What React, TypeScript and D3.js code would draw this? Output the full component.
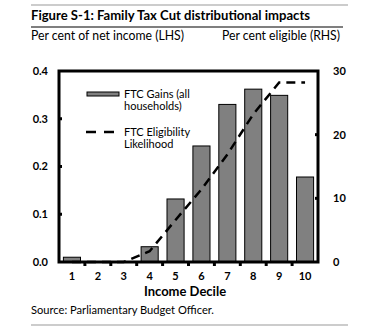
import React from "react";
import * as d3 from "d3";

const categories = ["1", "2", "3", "4", "5", "6", "7", "8", "9", "10"];
const ftcGains = [0.01, 0.001, 0.001, 0.032, 0.132, 0.243, 0.33, 0.362, 0.349, 0.178];
const eligibility = [0, 0, 0, 1.7, 6.6, 11.4, 16.9, 23.2, 28.2, 28.2];
const leftTicks = [0, 0.1, 0.2, 0.3, 0.4];
const rightTicks = [0, 10, 20, 30];

const W = 365;
const H = 326;
const L = 59;
const R = 318;
const T = 71;
const B = 262;
const FONT = "Lato, 'Open Sans', sans-serif";

export default function App() {
  const x = d3
    .scaleBand<string>()
    .domain(categories)
    .range([L, R])
    .paddingInner(0.34)
    .paddingOuter(0.17);
  const yL = d3.scaleLinear().domain([0, 0.4]).range([B, T]);
  const yR = d3.scaleLinear().domain([0, 30]).range([B, T]);
  const step = x.step();
  const line = d3
    .line<number>()
    .x((_, i) => (x(categories[i]) as number) + x.bandwidth() / 2)
    .y((d) => yR(d));

  return (
    <svg
      width={W}
      height={H}
      style={{ position: "absolute", left: 0, top: 0, display: "block", background: "#fff" }}
      fontFamily={FONT}
    >
      <line x1={31} x2={348} y1={5} y2={5} stroke="#999" strokeWidth={1} />
      <text x={31} y={20} fontSize={13.5} fontWeight="bold" fill="#000" textLength={279} lengthAdjust="spacingAndGlyphs">
        Figure S-1: Family Tax Cut distributional impacts
      </text>
      <line x1={31} x2={343} y1={27} y2={27} stroke="#000" strokeWidth={1.2} />
      <text x={31} y={40} fontSize={12.5} fill="#000" textLength={153} lengthAdjust="spacingAndGlyphs">
        Per cent of net income (LHS)
      </text>
      <text x={222} y={40} fontSize={12.5} fill="#000" textLength={118} lengthAdjust="spacingAndGlyphs">
        Per cent eligible (RHS)
      </text>

      {/* bars */}
      {ftcGains.map((v, i) => (
        <rect
          key={i}
          x={x(categories[i])}
          y={yL(v)}
          width={x.bandwidth()}
          height={Math.max(0, B - yL(v))}
          fill="#808080"
          stroke="#000"
          strokeWidth={1}
        />
      ))}

      {/* dashed line */}
      <path d={line(eligibility) || ""} fill="none" stroke="#000" strokeWidth={2.5} strokeDasharray="9,6" />

      {/* frame */}
      <rect x={L} y={T} width={R - L} height={B - T} fill="none" stroke="#000" strokeWidth={3} />

      {/* left ticks */}
      {leftTicks.map((t) => (
        <g key={"l" + t}>
          {t > 0 && t < 0.4 && <line x1={L} x2={L + 3} y1={yL(t)} y2={yL(t)} stroke="#000" strokeWidth={3} />}
          <text x={48} y={yL(t)} dy="0.35em" textAnchor="end" fontSize={11} fontWeight="bold" fill="#000">
            {t.toFixed(1)}
          </text>
        </g>
      ))}
      {/* right ticks */}
      {rightTicks.map((t) => (
        <g key={"r" + t}>
          {t > 0 && t < 30 && <line x1={R - 3} x2={R} y1={yR(t)} y2={yR(t)} stroke="#000" strokeWidth={3} />}
          <text x={333} y={yR(t)} dy="0.35em" textAnchor="start" fontSize={11} fontWeight="bold" fill="#000">
            {t}
          </text>
        </g>
      ))}
      {/* bottom ticks */}
      {categories.slice(1).map((c) => (
        <line
          key={"b" + c}
          x1={(x(c) as number) - (step * 0.34) / 2}
          x2={(x(c) as number) - (step * 0.34) / 2}
          y1={B}
          y2={B + 4}
          stroke="#000"
          strokeWidth={3}
        />
      ))}
      {categories.map((c) => (
        <text
          key={"xl" + c}
          x={(x(c) as number) + x.bandwidth() / 2}
          y={280}
          textAnchor="middle"
          fontSize={11}
          fontWeight="bold"
          fill="#000"
        >
          {c}
        </text>
      ))}
      <text x={185} y={296} textAnchor="middle" fontSize={13} fontWeight="bold" fill="#000">
        Income Decile
      </text>

      {/* legend */}
      <rect x={87} y={92} width={32} height={4} fill="#808080" stroke="#000" strokeWidth={1} />
      <text x={124} y={98} fontSize={11} fill="#000">FTC Gains (all</text>
      <text x={124} y={110} fontSize={11} fill="#000">households)</text>
      <line x1={86} x2={119} y1={132} y2={132} stroke="#000" strokeWidth={2.5} strokeDasharray="10,8" />
      <text x={124} y={136} fontSize={11} fill="#000">FTC Eligibility</text>
      <text x={124} y={148} fontSize={11} fill="#000">Likelihood</text>

      <text x={31} y={314} fontSize={11} fill="#000" textLength={183} lengthAdjust="spacingAndGlyphs">
        Source: Parliamentary Budget Officer.
      </text>
      <line x1={31} x2={348} y1={325} y2={325} stroke="#999" strokeWidth={1} />
    </svg>
  );
}
